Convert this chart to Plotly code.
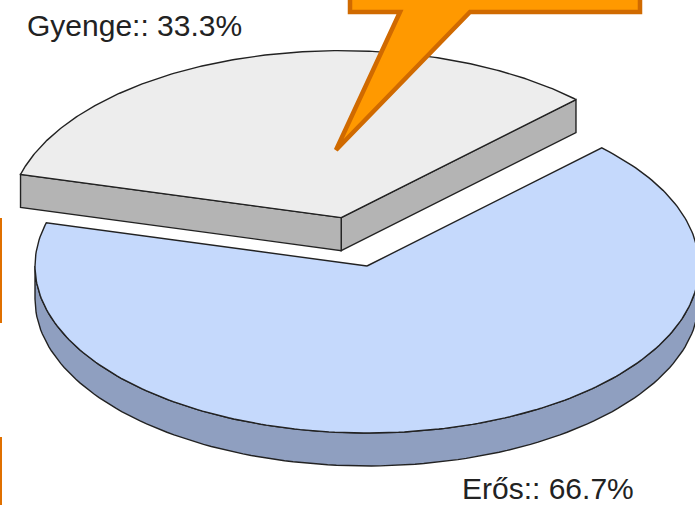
import numpy as np
import plotly.graph_objects as go

# ---- data ----
labels = ["Gyenge", "Erős"]
values = [1, 2]
top_colors = ["#EDEDED", "#C5D9FC"]
side_colors = ["#B4B4B4", "#8F9FC0"]
explode = [0.3, 0.0]

# ---- pie geometry (pixel space) ----
CX, CY = 367, 266
A, B, DEPTH = 332, 167, 33
START = 45.0
OUTLINE = "#222222"

total = float(sum(values))


def ell(cx, cy, t, dy=0.0):
    r = np.radians(t)
    return cx + A * np.cos(r), cy - B * np.sin(r) + dy


fig = go.Figure()


def poly(xs, ys, fill):
    fig.add_trace(go.Scatter(
        x=list(xs) + [xs[0]], y=list(ys) + [ys[0]], mode="lines",
        fill="toself", fillcolor=fill,
        line=dict(color=OUTLINE, width=1.4),
        hoverinfo="skip", showlegend=False))


slices = []
cum = 0.0
for lab, v, ex in zip(labels, values, explode):
    t0 = START + 360.0 * cum / total
    t1 = t0 + 360.0 * v / total
    tm = np.radians((t0 + t1) / 2)
    cx = CX + ex * A * np.cos(tm)
    cy = CY - ex * B * np.sin(tm)
    slices.append((lab, v, t0, t1, cx, cy))
    cum += v

# draw order: front slice (blue) first, then the back slice
order = sorted(range(len(slices)), key=lambda i: -slices[i][5])
for i in order:
    lab, v, t0, t1, cx, cy = slices[i]
    # curved side: visible where the rim faces the viewer (180..360 deg)
    for lo, hi in [(180, 360), (540, 720)]:
        s, e = max(t0, lo), min(t1, hi)
        if e > s:
            t = np.linspace(s, e, 120)
            xt, yt = ell(cx, cy, t)
            xb, yb = ell(cx, cy, t[::-1], DEPTH)
            poly(np.concatenate([xt, xb]), np.concatenate([yt, yb]), side_colors[i])
    # radial faces
    for t, nrm in [(t0, t0 - 90), (t1, t1 + 90)]:
        if np.sin(np.radians(nrm)) < 0:
            ex_, ey_ = ell(cx, cy, t)
            poly([cx, ex_, ex_, cx], [cy, ey_, ey_ + DEPTH, cy + DEPTH], side_colors[i])
    # top face
    t = np.linspace(t0, t1, 240)
    xt, yt = ell(cx, cy, t)
    poly(np.concatenate([[cx], xt]), np.concatenate([[cy], yt]), top_colors[i])

# labels
pcts = [100.0 * v / total for v in values]
label_pos = [(25, 25), (460, 488)]
for lab, p, (lx, ly) in zip(labels, pcts, label_pos):
    fig.add_annotation(x=lx, y=ly, xref="x", yref="y", text=f"{lab}:: {p:.1f}%",
                       showarrow=False, xanchor="left", yanchor="middle",
                       font=dict(family="Liberation Sans, Arial, sans-serif", size=30, color="#222222"))

shapes = [
    dict(type="path", xref="x", yref="y",
         path="M 350,-40 L 640,-40 L 640,12 L 470,12 L 336,150 L 400,12 L 350,12 Z",
         fillcolor="#FF9900", line=dict(color="#D06A00", width=4.5), layer="above"),
    dict(type="line", xref="x", yref="y", x0=1, x1=1, y0=218, y1=323,
         line=dict(color="#E07000", width=2)),
    dict(type="line", xref="x", yref="y", x0=1, x1=1, y0=437, y1=510,
         line=dict(color="#E07000", width=2)),
]

fig.update_layout(
    width=695, height=505, margin=dict(l=0, r=0, t=0, b=0),
    paper_bgcolor="white", plot_bgcolor="white", showlegend=False,
    xaxis=dict(range=[0, 695], visible=False, fixedrange=True),
    yaxis=dict(range=[505, 0], visible=False, fixedrange=True),
    shapes=shapes,
)

fig.write_html("out.html")
